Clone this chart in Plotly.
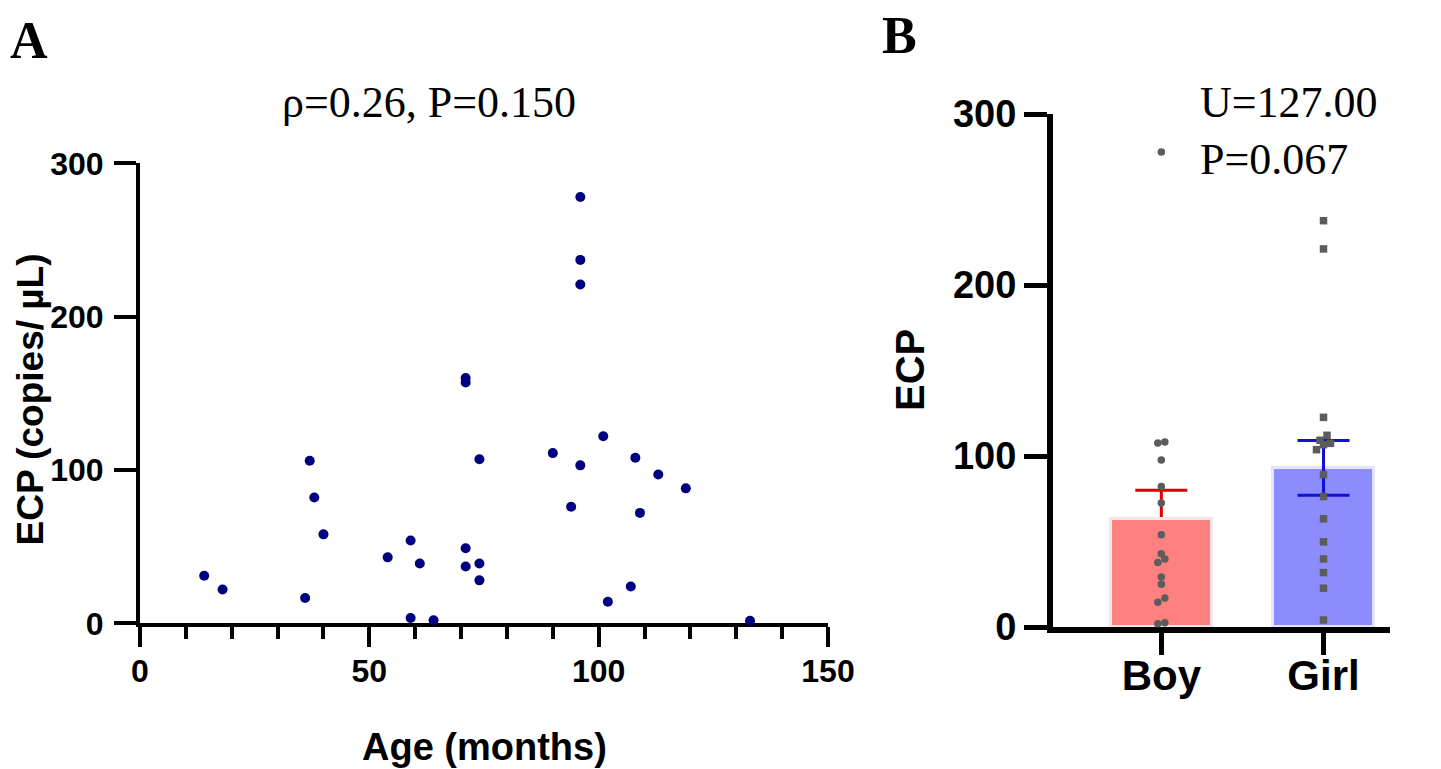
import plotly.graph_objects as go

# page body has an 8px default margin, so the figure is drawn 8px smaller and
# every reference pixel position is shifted by that offset
OFF = 8
W, H = 1441 - OFF, 769 - OFF

# ---------------- Panel A data ----------------
age_months = [14, 18, 36, 37, 38, 40, 54, 59, 61, 59, 64, 71, 71, 71, 71, 74, 74, 74,
              96, 96, 96, 90, 96, 94, 101, 102, 107, 108, 109, 113, 119, 133]
ecp_copies = [31, 22, 16.5, 106, 82, 58, 43, 54, 39, 3.5, 2, 160, 157, 49, 37, 107, 39, 28,
              278, 237, 221, 111, 103, 76, 122, 14, 24, 108, 72, 97, 88, 1.7]
a_xticks = [0, 50, 100, 150]
a_yticks = [0, 100, 200, 300]
a_stat_text = "ρ=0.26, P=0.150"

# ---------------- Panel B data ----------------
groups = ["Boy", "Girl"]
boy_ecp = [277.8, 108.2, 107.6, 97.7, 82.2, 72.5, 53.9, 42.9, 39.8, 37.7, 29.3, 25.0,
           17.0, 14.5, 2.5, 1.9]
girl_ecp = [237.6, 221.1, 122.6, 112.1, 109.2, 107.4, 106.6, 103.7, 89.1, 76.3, 63.3,
            49.8, 39.8, 31.8, 22.7, 4.1]
bar_mean = [63, 93]
bar_sem = [17, 16]
# in the original the Boy bar is painted over the lower half of its SEM whisker
bar_covers_whisker = [True, False]
b_yticks = [0, 100, 200, 300]
b_stat_u = "U=127.00"
b_stat_p = "P=0.067"

# ---------------- geometry (reference pixels) ----------------
A_x0, A_x1 = 140, 828
A_y0, A_y1 = 623.3, 163.3
B_x0, B_x1 = 1053, 1390
B_y0, B_y1 = 627, 114
B_xrange = [-0.668, 1.41]


def px(x):
    return (x - OFF) / W


def py(y):
    return 1 - (y - OFF) / H


SANS = "Liberation Sans, Arial, sans-serif"
SERIF = "Liberation Serif, Times New Roman, serif"

fig = go.Figure()

# Panel A scatter
fig.add_trace(go.Scatter(
    x=age_months, y=ecp_copies, mode="markers",
    marker=dict(size=10, color="#00007f", line=dict(width=0)),
    cliponaxis=False, xaxis="x", yaxis="y", showlegend=False))

# Panel B bars with SEM
bar_colors = ["#ff8080", "#8c8cff"]
bar_lines = ["#f3e3ea", "#e4e4f6"]
err_colors = ["#e00000", "#1010d8"]
for i, g in enumerate(groups):
    fig.add_trace(go.Bar(
        x=[i], y=[bar_mean[i]], width=0.62,
        marker=dict(color=bar_colors[i], line=dict(color=bar_lines[i], width=3)),
        error_y=dict(type="data", array=[bar_sem[i]], color=err_colors[i],
                     thickness=3, width=26),
        xaxis="x2", yaxis="y2", showlegend=False))
for i, g in enumerate(groups):
    if bar_covers_whisker[i]:
        fig.add_trace(go.Bar(
            x=[i], y=[bar_mean[i]], width=0.62,
            marker=dict(color=bar_colors[i], line=dict(color=bar_lines[i], width=3)),
            hoverinfo="skip", xaxis="x2", yaxis="y2", showlegend=False))

# beeswarm-like horizontal offsets (computed from axis pixel scale)
px_per_val = (B_y0 - B_y1) / 300.0
px_per_cat = (B_x1 - B_x0) / (B_xrange[1] - B_xrange[0])
dot_px = 7.0


def swarm(vals, center):
    order = sorted(range(len(vals)), key=lambda k: vals[k])
    xs = [0.0] * len(vals)

    def flush(grp):
        n = len(grp)
        for j, k in enumerate(grp):
            xs[k] = center + (j - (n - 1) / 2.0) * dot_px / px_per_cat

    grp = []
    for k in order:
        if grp and (vals[k] - vals[grp[0]]) * px_per_val >= dot_px:
            flush(grp)
            grp = []
        grp.append(k)
    if grp:
        flush(grp)
    return xs


fig.add_trace(go.Scatter(
    x=swarm(boy_ecp, 0), y=boy_ecp, mode="markers",
    marker=dict(symbol="circle", size=7.5, color="#5c5c5c"),
    cliponaxis=False, xaxis="x2", yaxis="y2", showlegend=False))
fig.add_trace(go.Scatter(
    x=swarm(girl_ecp, 1), y=girl_ecp, mode="markers",
    marker=dict(symbol="square", size=7.5, color="#5c5c5c"),
    cliponaxis=False, xaxis="x2", yaxis="y2", showlegend=False))

axis_common = dict(showgrid=False, zeroline=False, showline=True, linecolor="black",
                   ticks="outside", tickcolor="black", layer="below traces")

fig.update_layout(
    width=W, height=H,
    margin=dict(l=0, r=0, t=0, b=0, autoexpand=False),
    paper_bgcolor="white", plot_bgcolor="white",
    barmode="overlay", bargap=0,
    xaxis=dict(domain=[px(A_x0), px(A_x1)], range=[0, 150], anchor="y",
               tickvals=a_xticks, ticklen=20, tickwidth=4, linewidth=4,
               ticklabelstandoff=-4,
               minor=dict(dtick=10, ticks="outside", ticklen=12, tickwidth=4,
                          tickcolor="black", showgrid=False),
               tickfont=dict(family=SANS, size=32, color="black", weight="bold"),
               **axis_common),
    yaxis=dict(domain=[py(A_y0), py(A_y1)], range=[0, 300], anchor="x",
               tickvals=a_yticks, ticklen=22, tickwidth=4, linewidth=4,
               ticklabelstandoff=4,
               tickfont=dict(family=SANS, size=32, color="black", weight="bold"),
               **axis_common),
    xaxis2=dict(domain=[px(B_x0), px(B_x1)], range=B_xrange, anchor="y2",
                tickvals=[0, 1], ticktext=groups, ticklen=22, tickwidth=5, linewidth=6,
                ticklabelstandoff=-15,
                tickfont=dict(family=SANS, size=42, color="black", weight="bold"),
                **axis_common),
    yaxis2=dict(domain=[py(B_y0), py(B_y1)], range=[0, 300], anchor="x2",
                tickvals=b_yticks, ticklen=23, tickwidth=5, linewidth=6,
                tickfont=dict(family=SANS, size=38, color="black", weight="bold"),
                **axis_common),
)

ann = [
    dict(text="A", x=px(8), y=py(40), xanchor="left", yanchor="middle",
         font=dict(family=SERIF, size=52, color="black", weight="bold")),
    dict(text="B", x=px(880), y=py(36), xanchor="left", yanchor="middle",
         font=dict(family=SERIF, size=52, color="black", weight="bold")),
    dict(text=a_stat_text, x=px(429), y=py(103), xanchor="center", yanchor="middle",
         font=dict(family=SERIF, size=44, color="black")),
    dict(text=b_stat_u, x=px(1198), y=py(103), xanchor="left", yanchor="middle",
         font=dict(family=SERIF, size=44, color="black")),
    dict(text=b_stat_p, x=px(1198), y=py(159), xanchor="left", yanchor="middle",
         font=dict(family=SERIF, size=44, color="black")),
    dict(text="ECP (copies/ µL)", x=px(8), y=py(400), textangle=-90,
         xanchor="left", yanchor="middle", borderpad=0,
         font=dict(family=SANS, size=37, color="black", weight="bold")),
    dict(text="Age (months)", x=px(484), y=py(747), xanchor="center", yanchor="middle",
         font=dict(family=SANS, size=38, color="black", weight="bold")),
    dict(text="ECP", x=px(910), y=py(370), textangle=-90,
         xanchor="center", yanchor="middle",
         font=dict(family=SANS, size=40, color="black", weight="bold")),
]
for a in ann:
    a.update(xref="paper", yref="paper", showarrow=False)
fig.update_layout(annotations=ann)

fig.write_html("out.html")
